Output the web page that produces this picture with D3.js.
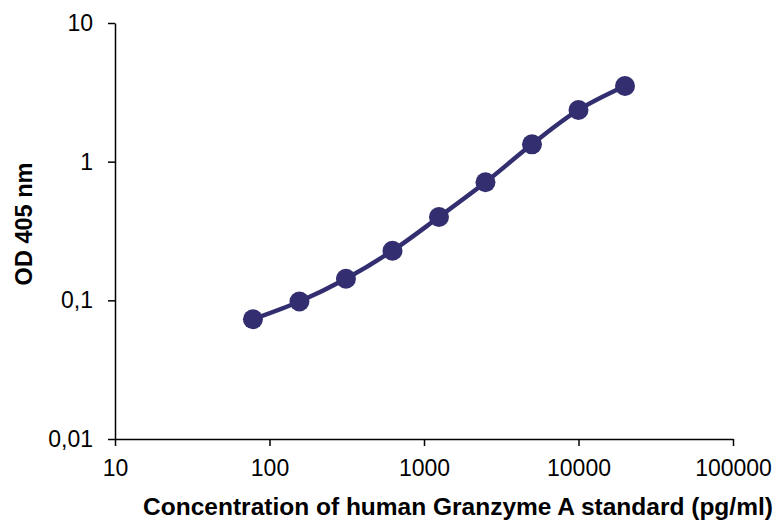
<!DOCTYPE html>
<html>
<head>
<meta charset="utf-8">
<script src="https://cdn.jsdelivr.net/npm/d3@7"></script>
<style>
  body { margin: 0; background: #fff; }
  svg { display: block; }
</style>
</head>
<body>
<svg id="chart" width="776" height="523"></svg>
<script>
// standard curve: concentration (pg/ml) vs OD 405 nm
const concentrations = [78.125, 156.25, 312.5, 625, 1250, 2500, 5000, 10000, 20000];
const odValues = [0.073, 0.098, 0.143, 0.228, 0.399, 0.71, 1.334, 2.36, 3.51];

const xTicks = [10, 100, 1000, 10000, 100000];
const yTicks = [0.01, 0.1, 1, 10];
const yTickLabels = ["0,01", "0,1", "1", "10"];

const width = 776, height = 523;
const margin = { top: 23, right: 43, bottom: 84, left: 115 };
const color = "#332e70";

const svg = d3.select("#chart");

const x = d3.scaleLog()
    .domain([10, 100000])
    .range([margin.left, width - margin.right]);

const y = d3.scaleLog()
    .domain([0.01, 10])
    .range([height - margin.bottom, margin.top]);

// axes
const xAxis = svg.append("g")
    .attr("transform", `translate(0,${height - margin.bottom})`)
    .call(d3.axisBottom(x).tickValues(xTicks).tickFormat(d3.format("d"))
      .tickSizeInner(7).tickSizeOuter(0).tickPadding(14));

const yAxis = svg.append("g")
    .attr("transform", `translate(${margin.left},0)`)
    .call(d3.axisLeft(y).tickValues(yTicks).tickFormat((d, i) => yTickLabels[i])
      .tickSizeInner(7).tickSizeOuter(0).tickPadding(15));

[xAxis, yAxis].forEach(g => {
  g.select(".domain").attr("stroke", "#000").attr("stroke-width", 1.5);
  g.selectAll(".tick line").attr("stroke", "#000").attr("stroke-width", 1.5);
  g.selectAll(".tick text")
      .attr("fill", "#000")
      .style("font", "23px 'Liberation Sans', Arial, sans-serif");
});

// axis titles
svg.append("text")
    .attr("x", 458)
    .attr("y", 515)
    .attr("text-anchor", "middle")
    .style("font", "bold 24.5px 'Liberation Sans', Arial, sans-serif")
    .text("Concentration of human Granzyme A standard (pg/ml)");

svg.append("text")
    .attr("transform", "translate(32,224) rotate(-90)")
    .attr("text-anchor", "middle")
    .style("font", "bold 23.5px 'Liberation Sans', Arial, sans-serif")
    .text("OD 405 nm");

// smoothed line + markers
const points = concentrations.map((c, i) => [c, odValues[i]]);

const line = d3.line()
    .x(d => x(d[0]))
    .y(d => y(d[1]))
    .curve(d3.curveCatmullRom.alpha(0.5));

svg.append("path")
    .datum(points)
    .attr("fill", "none")
    .attr("stroke", color)
    .attr("stroke-width", 4.5)
    .attr("d", line);

svg.append("g")
  .selectAll("circle")
  .data(points)
  .join("circle")
    .attr("cx", d => x(d[0]))
    .attr("cy", d => y(d[1]))
    .attr("r", 10)
    .attr("fill", color);
</script>
</body>
</html>
